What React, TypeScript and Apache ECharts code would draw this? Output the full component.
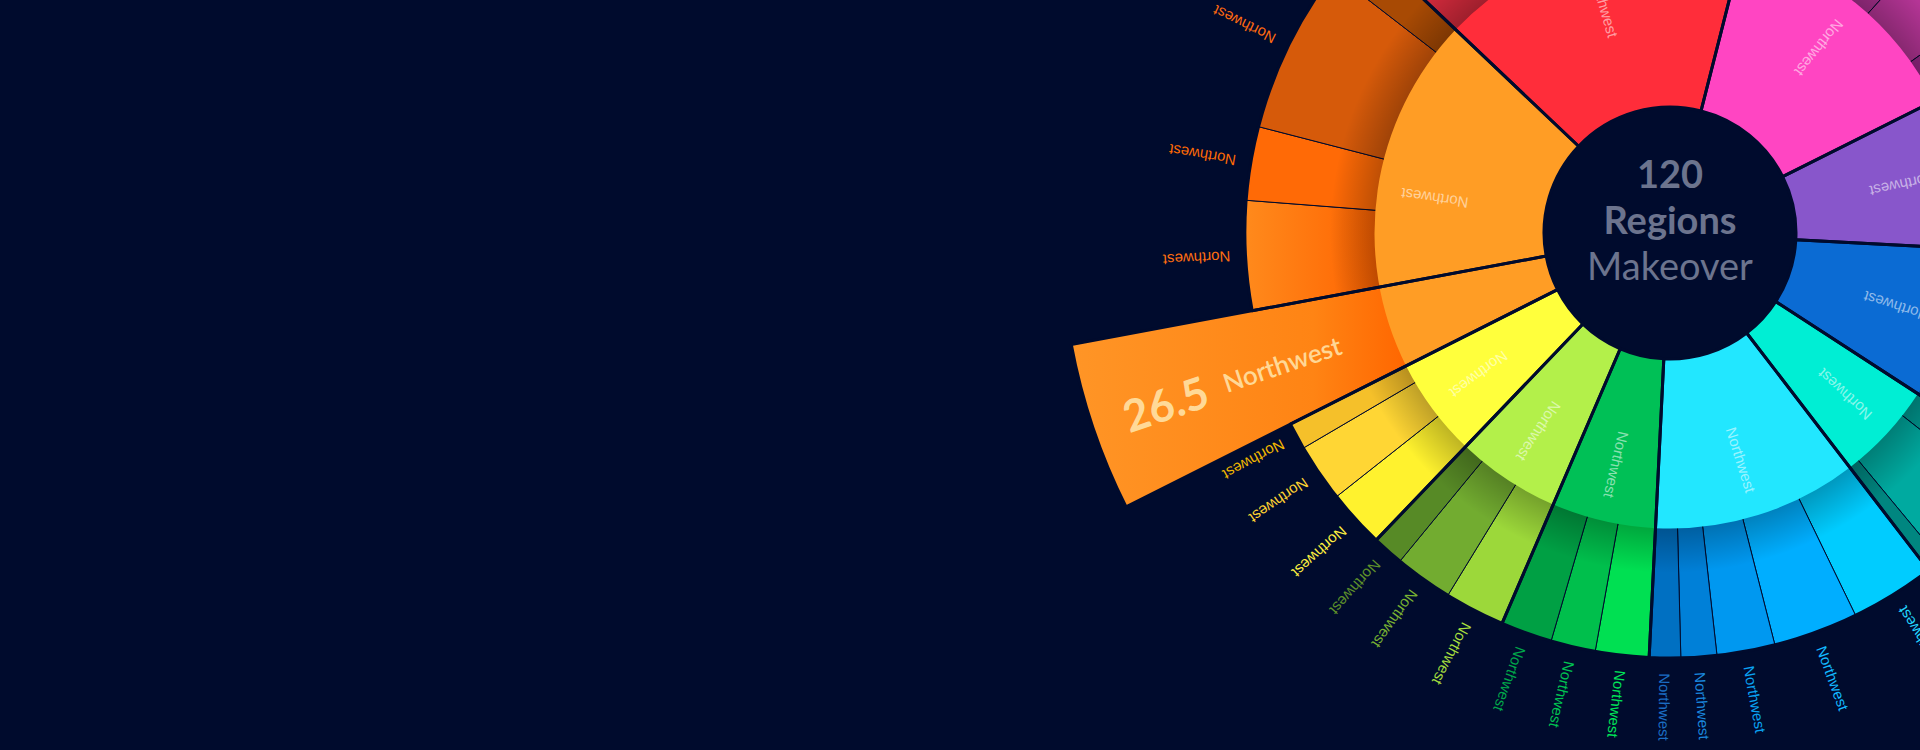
import React, { useEffect, useRef } from 'react';
import * as echarts from 'echarts';

// ---------- data ----------
const groupNames = ['Northwest', 'Northwest', 'Northwest', 'Northwest', 'Northwest', 'Northwest', 'Northwest', 'Northwest', 'Northwest', 'Northwest'];
const groupColors = ['#FF2D3A', '#FF45C2', '#8856CB', '#0B6BD3', '#00EED4', '#22E7FF', '#00C056', '#B3F04A', '#FFFF3C', '#FF9D25'];

const leafValues: number[][] = [
  [30.5, 34.5, 34.5],
  [45.5, 20.5, 14.5],
  [24.5, 24],
  [26, 23],
  [8.5, 20, 3.5],
  [19, 19, 13, 8, 7],
  [12, 10, 11.5],
  [13.5, 13, 7],
  [13, 13, 6],
  [26.5, 24.5, 16.5, 38, 9.5],
];
const leafNames: string[][] = leafValues.map((g) => g.map(() => 'Northwest'));
const leafColors: string[][] = [
  ['#D42A3C', '#E4303F', '#C72537'],
  ['#A8308E', '#B53596', '#9A2888'],
  ['#6F45AE', '#7B4DBD'],
  ['#0857B2', '#0A63C4'],
  ['#009A92', '#00AAA0', '#008680'],
  ['#00CCFF', '#00AEFF', '#0098F0', '#0080D8', '#0070C2'],
  ['#00E052', '#00BF4C', '#00A044'],
  ['#9CD83A', '#72AC30', '#578A26'],
  ['#FFF22E', '#FFD634', '#F5C02A'],
  ['#FF8A1C', '#FF7A12', '#FF6A06', '#D65A0A', '#A84A04'],
];
const leafLabelColors: string[][] = [
  ['#E0303F', '#E4303F', '#D02838'],
  ['#B0329A', '#B53596', '#A22A90'],
  ['#7A4EBE', '#8055C8'],
  ['#0A62C4', '#0A6AD0'],
  ['#00B0A6', '#00B8AC', '#009A92'],
  ['#22D6FF', '#12B8FF', '#0AA2F2', '#1A86DC', '#1B6EC4'],
  ['#00E458', '#00C452', '#00A64A'],
  ['#A6DE3E', '#7AB232', '#5E902A'],
  ['#FFF040', '#FFD232', '#F2B800'],
  ['#FF6A10', '#FF6E10', '#FF6A04', '#FF6A10', '#FF6A10'],
];
const highlightLeaf = [9, 0];
const centerLines = ['120', 'Regions', 'Makeover'];

// ---------- layout / style ----------
const BG = '#000B2D';
const CX = 1670;
const CY = 233;
const START = 136.5;
const FLIP_LO = 115;
const R_HOLE = 126;
const R1 = 295.5;
const R2_IN = 294;
const R2 = 425;
const R_HL = 609;
const LABEL_FONT = "'Liberation Sans', Arial, sans-serif";
const CENTER_TXT = '#6C748E';
const HL_TXT = 'rgba(255,235,180,0.82)';
const CLEAR = 'rgba(0,0,0,0)';

const norm = (a: number) => ((a % 360) + 360) % 360;
const isOutward = (a: number) => a >= FLIP_LO && a < FLIP_LO + 180;
const textRot = (a: number) => {
  let r = norm(isOutward(a) ? a : a + 180);
  return r > 180 ? r - 360 : r;
};

function buildOption(): any {
  const leaves: any[] = [];
  leafValues.forEach((vals, g) =>
    vals.forEach((v, i) =>
      leaves.push({
        g,
        i,
        value: v,
        name: leafNames[g][i],
        color: leafColors[g][i],
        labelColor: leafLabelColors[g][i],
        hl: g === highlightLeaf[0] && i === highlightLeaf[1],
      })
    )
  );
  const total = leaves.reduce((s, l) => s + l.value, 0);
  const angleAt = (c: number) => START - (360 * c) / total;
  let cum = 0;
  leaves.forEach((l) => {
    l.mid = norm(angleAt(cum + l.value / 2));
    cum += l.value;
  });
  const groups = groupNames.map((name, g) => ({
    name,
    value: leafValues[g].reduce((s, v) => s + v, 0),
    color: groupColors[g],
    mid: 0,
  }));
  cum = 0;
  groups.forEach((gr) => {
    gr.mid = norm(angleAt(cum + gr.value / 2));
    cum += gr.value;
  });

  const hlGrad = new echarts.graphic.LinearGradient(0, 0, 1, 0, [
    { offset: 0, color: '#FF9526' },
    { offset: 0.72, color: '#FF8414' },
    { offset: 1, color: '#FF6600' },
  ]);
  const o1Grad = new echarts.graphic.LinearGradient(0, 0, 1, 0, [
    { offset: 0, color: '#FF8A1C' },
    { offset: 1, color: '#FF6200' },
  ]);
  const shadowGrad = new echarts.graphic.RadialGradient(
    CX,
    CY,
    340,
    [
      { offset: 0, color: 'rgba(0,0,0,0.26)' },
      { offset: R2_IN / 340, color: 'rgba(0,0,0,0.26)' },
      { offset: 1, color: 'rgba(0,0,0,0)' },
    ],
    true
  );

  const common = {
    type: 'pie',
    center: [CX, CY],
    startAngle: START,
    clockwise: true,
    avoidLabelOverlap: false,
    labelLine: { show: false },
    emphasis: { disabled: true },
    silent: true,
    animation: false,
  };

  // group separator data (highlight part split out, without border)
  const groupLineData: any[] = [];
  groups.forEach((gr, g) => {
    const line = { color: CLEAR, borderColor: BG, borderWidth: 3 };
    if (g === highlightLeaf[0]) {
      const vals = leafValues[g];
      const before = vals.slice(0, highlightLeaf[1]).reduce((s, v) => s + v, 0);
      const hv = vals[highlightLeaf[1]];
      const after = gr.value - before - hv;
      if (before > 0) groupLineData.push({ value: before, itemStyle: line });
      groupLineData.push({ value: hv, itemStyle: { color: CLEAR, borderWidth: 0 } });
      if (after > 0) groupLineData.push({ value: after, itemStyle: line });
    } else {
      groupLineData.push({ value: gr.value, itemStyle: line });
    }
  });

  return {
    backgroundColor: BG,
    animation: false,
    series: [
      {
        ...common,
        name: 'ring2',
        z: 1,
        radius: [R2_IN, R2],
        label: { show: false },
        itemStyle: { borderColor: BG, borderWidth: 1 },
        data: leaves.map((l) => ({
          name: l.name,
          value: l.value,
          itemStyle: { color: l.g === 9 && l.i === 1 ? o1Grad : l.color },
        })),
      },
      {
        ...common,
        name: 'shadow',
        z: 2,
        radius: [R2_IN, 340],
        label: { show: false },
        data: [{ name: '', value: 1, itemStyle: { color: shadowGrad } }],
      },
      {
        ...common,
        name: 'highlight',
        z: 3,
        radius: [R2_IN, R_HL],
        data: leaves.map((l) =>
          l.hl
            ? {
                name: l.name,
                value: l.value,
                itemStyle: { color: hlGrad },
                label: {
                  show: true,
                  position: 'inside',
                  rotate: norm(l.mid - 180) > 180 ? norm(l.mid - 180) - 360 : norm(l.mid - 180),
                  formatter: `{v|${l.value}}{n|${l.name}}`,
                  padding: [0, 15, 0, 0],
                  textBorderWidth: 0,
                  rich: {
                    v: { fontFamily: 'Lato', fontSize: 44, fontWeight: 'bold', color: HL_TXT },
                    n: { fontFamily: 'Lato', fontSize: 26, fontWeight: 600, color: HL_TXT, padding: [0, 0, 0, 18] },
                  },
                },
              }
            : { name: l.name, value: l.value, itemStyle: { color: CLEAR }, label: { show: false } }
        ),
      },
      {
        ...common,
        name: 'ring1',
        z: 4,
        radius: [R_HOLE, R1],
        data: groups.map((gr) => ({
          name: gr.name,
          value: gr.value,
          itemStyle: { color: gr.color },
          label: {
            show: true,
            position: 'inside',
            rotate: textRot(gr.mid),
            padding: isOutward(gr.mid) ? [0, 0, 0, 48] : [0, 48, 0, 0],
            color: 'rgba(255,255,255,0.55)',
            fontSize: 15,
            fontFamily: LABEL_FONT,
            textBorderWidth: 0,
          },
        })),
      },
      {
        ...common,
        name: 'groupLines',
        z: 5,
        radius: [R_HOLE, R2],
        label: { show: false },
        data: groupLineData,
      },
      {
        ...common,
        name: 'highlightOutline',
        z: 6,
        radius: [R_HOLE, R_HL],
        label: { show: false },
        data: leaves.map((l) => ({
          value: l.value,
          itemStyle: { color: CLEAR, borderColor: BG, borderWidth: l.hl ? 3 : 0 },
        })),
      },
      {
        ...common,
        name: 'outerLabels',
        z: 7,
        radius: [433, 509],
        data: leaves.map((l) => ({
          name: l.name,
          value: l.value,
          itemStyle: { color: CLEAR },
          label: l.hl
            ? { show: false }
            : {
                show: true,
                position: 'inside',
                rotate: textRot(l.mid),
                color: l.labelColor,
                fontSize: 15,
                fontFamily: LABEL_FONT,
                textBorderWidth: 0,
              },
        })),
      },
    ],
    graphic: {
      elements: [
        {
          type: 'text',
          x: CX,
          y: CY - 14,
          z: 100,
          silent: true,
          style: {
            text: centerLines.map((t, i) => `{${i < 2 ? 'b' : 'r'}|${t}}`).join('\n'),
            align: 'center',
            verticalAlign: 'middle',
            fill: CENTER_TXT,
            rich: {
              b: { fontFamily: 'Lato', fontSize: 38, fontWeight: 'bold', lineHeight: 46, fill: CENTER_TXT },
              r: { fontFamily: 'Lato', fontSize: 38, fontWeight: 'normal', lineHeight: 46, fill: CENTER_TXT },
            },
          },
        },
      ],
    },
  };
}

export default function App() {
  const ref = useRef<HTMLDivElement>(null);
  useEffect(() => {
    if (!ref.current) return;
    const chart = echarts.init(ref.current, null, { renderer: 'svg' });
    chart.setOption(buildOption());
    return () => chart.dispose();
  }, []);
  return (
    <div
      ref={ref}
      style={{ position: 'fixed', left: 0, top: 0, width: 1920, height: 750, background: BG }}
    />
  );
}
